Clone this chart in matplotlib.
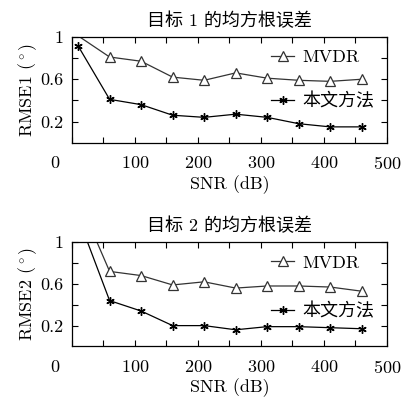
import numpy as np
import matplotlib
matplotlib.use("Agg")
import matplotlib.pyplot as plt
from matplotlib.transforms import ScaledTranslation

plt.rcParams['font.family'] = ['cmr10', 'Noto Sans CJK SC', 'DejaVu Serif']
plt.rcParams['mathtext.fontset'] = 'cm'
plt.rcParams['axes.formatter.use_mathtext'] = True
plt.rcParams['font.size'] = 13

snr = [10, 60, 110, 160, 210, 260, 310, 360, 410, 460]

# target 1
mvdr_1 = [1.01, 0.81, 0.77, 0.62, 0.59, 0.66, 0.61, 0.59, 0.58, 0.60]
ours_1 = [0.915, 0.41, 0.36, 0.26, 0.24, 0.27, 0.24, 0.18, 0.15, 0.15]

# target 2
mvdr_2 = [1.42, 0.72, 0.68, 0.59, 0.62, 0.56, 0.58, 0.58, 0.57, 0.53]
ours_2 = [1.24, 0.44, 0.34, 0.20, 0.20, 0.16, 0.19, 0.19, 0.18, 0.17]

titles = ['目标 1 的均方根误差', '目标 2 的均方根误差']
ylabels = [r'RMSE1 ($^\circ$)', r'RMSE2 ($^\circ$)']
labels = ['MVDR', '本文方法']

fig = plt.figure(figsize=(4.01, 4.01), dpi=100)
ax1 = fig.add_axes([0.179, 0.644, 0.786, 0.264])
ax2 = fig.add_axes([0.179, 0.136, 0.786, 0.260])

star = (6, 2, 0)
spacing = [1.45, 1.75]

for i, (ax, mv, ou) in enumerate(zip([ax1, ax2], [mvdr_1, mvdr_2], [ours_1, ours_2])):
    # markers outside the y range are not drawn (like the original)
    mv_marks = [k for k, v in enumerate(mv) if v <= 1]
    ou_marks = [k for k, v in enumerate(ou) if v <= 1]
    ax.plot(snr, mv, color='#333333', lw=0.9, marker='^', ms=6.5,
            mfc='white', mec='#333333', mew=0.9, markevery=mv_marks, label=labels[0])
    ax.plot(snr, ou, color='black', lw=0.9, marker=star, ms=6,
            mew=1.0, markevery=ou_marks, label=labels[1])
    ax.set_xlim(0, 500)
    ax.set_ylim(0, 1)
    ax.set_xticks(np.arange(0, 501, 100))
    ax.set_xticks(np.arange(50, 500, 100), minor=True)
    ax.set_yticks([0.2, 0.6, 1.0])
    ax.set_yticklabels(['0.2', '0.6', '1'])
    ax.set_yticks([0.4, 0.8], minor=True)
    ax.tick_params(which='both', direction='in', top=True, right=True,
                   length=4, width=0.8, labelsize=13)
    ax.tick_params(axis='x', pad=9)
    ax.tick_params(axis='y', pad=6)
    for s in ax.spines.values():
        s.set_linewidth(0.9)
    ax.set_title(titles[i], fontsize=13, pad=8)
    ax.set_xlabel('SNR (dB)', fontsize=13, labelpad=2)
    ax.set_ylabel(ylabels[i], fontsize=13, labelpad=1)
    ax.legend(loc='upper right', frameon=False, fontsize=13,
              handlelength=1.3, handletextpad=0.45, labelspacing=spacing[i],
              borderaxespad=0.2, bbox_to_anchor=(0.995, 0.98))
    # the "0" label sits left of the spine in the original
    lab0 = ax.get_xticklabels()[0]
    lab0.set_transform(lab0.get_transform() + ScaledTranslation(-0.17, 0, fig.dpi_scale_trans))

fig.savefig('out.png', dpi=100)
